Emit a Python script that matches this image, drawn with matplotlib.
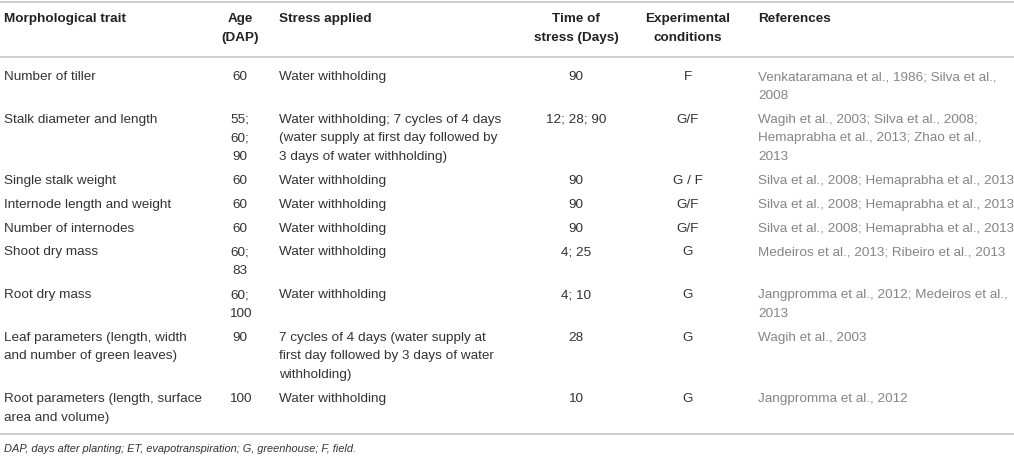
import matplotlib
matplotlib.use("Agg")
import matplotlib.pyplot as plt

# table contents
headers = ["Morphological trait", "Age\n(DAP)", "Stress applied",
           "Time of\nstress (Days)", "Experimental\nconditions", "References"]

traits = ["Number of tiller", "Stalk diameter and length", "Single stalk weight",
          "Internode length and weight", "Number of internodes", "Shoot dry mass",
          "Root dry mass", "Leaf parameters (length, width\nand number of green leaves)",
          "Root parameters (length, surface\narea and volume)"]
ages = ["60", "55;\n60;\n90", "60", "60", "60", "60;\n83", "60;\n100", "90", "100"]
stresses = ["Water withholding",
            "Water withholding; 7 cycles of 4 days\n(water supply at first day followed by\n3 days of water withholding)",
            "Water withholding", "Water withholding", "Water withholding",
            "Water withholding", "Water withholding",
            "7 cycles of 4 days (water supply at\nfirst day followed by 3 days of water\nwithholding)",
            "Water withholding"]
times = ["90", "12; 28; 90", "90", "90", "90", "4; 25", "4; 10", "28", "10"]
conditions = ["F", "G/F", "G / F", "G/F", "G/F", "G", "G", "G", "G"]
references = ["Venkataramana et al., 1986; Silva et al.,\n2008",
              "Wagih et al., 2003; Silva et al., 2008;\nHemaprabha et al., 2013; Zhao et al.,\n2013",
              "Silva et al., 2008; Hemaprabha et al., 2013",
              "Silva et al., 2008; Hemaprabha et al., 2013",
              "Silva et al., 2008; Hemaprabha et al., 2013",
              "Medeiros et al., 2013; Ribeiro et al., 2013",
              "Jangpromma et al., 2012; Medeiros et al.,\n2013",
              "Wagih et al., 2003",
              "Jangpromma et al., 2012"]
footnote = "DAP, days after planting; ET, evapotranspiration; G, greenhouse; F, field."

plt.rcParams['font.family'] = ['Liberation Sans', 'DejaVu Sans']

fig = plt.figure(figsize=(10.14, 4.58), dpi=100)
ax = fig.add_axes([0, 0, 1, 1])
ax.set_xlim(0, 1014)
ax.set_ylim(458, 0)
ax.axis('off')

# column anchors (x, alignment)
cols = [(4, 'left'), (240, 'center'), (279, 'left'), (576, 'center'), (688, 'center'), (758, 'left')]
LINE = 18.8
PAD = 5
FS = 9.7
DARK = '#333333'
GREY = '#858585'
RULE = '#c6c6c6'


def cell(x, y, txt, ha, **kw):
    for k, line in enumerate(txt.split("\n")):
        ax.text(x, y + k * LINE, line, ha=ha, va='center', fontsize=FS, **kw)


# rules
ax.plot([0, 1014], [2, 2], color=RULE, lw=1.2, solid_capstyle='butt')
ax.plot([0, 1014], [57, 57], color=RULE, lw=1.2, solid_capstyle='butt')
ax.plot([0, 1014], [434, 434], color=RULE, lw=1.2, solid_capstyle='butt')

# header
for (x, ha), h in zip(cols, headers):
    cell(x, 19, h, ha, color='#222222', fontweight='bold')

# body
y = 77
rows = list(zip(traits, ages, stresses, times, conditions, references))
for row in rows:
    for i, ((x, ha), txt) in enumerate(zip(cols, row)):
        cell(x, y, txt, ha, color=GREY if i == 5 else DARK)
    n = max(t.count("\n") + 1 for t in row)
    y += n * LINE + PAD

ax.text(4, 449, footnote, ha='left', va='center', fontsize=7.9,
        style='italic', color=DARK)

fig.savefig("out.png", dpi=100)
